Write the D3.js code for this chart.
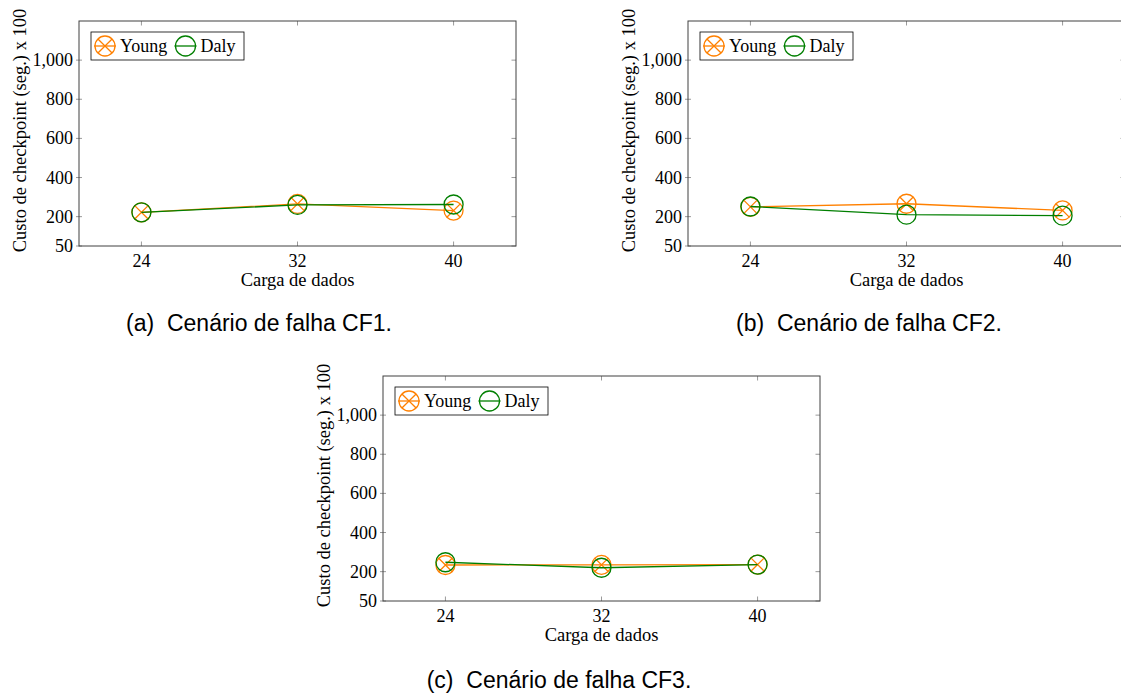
<!DOCTYPE html>
<html>
<head>
<meta charset="utf-8">
<script src="https://cdn.jsdelivr.net/npm/d3@7"></script>
<style>
  body { margin: 0; background: #fff; }
  svg { display: block; font-family: "Liberation Serif", "DejaVu Serif", serif; }
</style>
</head>
<body>
<div id="chart"></div>
<script>
const W = 1121, H = 697;

// data
const loads = [24, 32, 40];
const yTicks = [50, 200, 400, 600, 800, 1000];
const seriesNames = ['Young', 'Daly'];
const youngCF1 = [222, 265, 231];
const dalyCF1 = [222, 260, 262];
const youngCF2 = [250, 266, 232];
const dalyCF2 = [252, 210, 205];
const youngCF3 = [234, 235, 236];
const dalyCF3 = [248, 220, 236];
const captions = ['(a)  Cenário de falha CF1.', '(b)  Cenário de falha CF2.', '(c)  Cenário de falha CF3.'];

const panels = [
  {left: 79, top: 21, capX: 259, capY: 331, young: youngCF1, daly: dalyCF1, caption: captions[0]},
  {left: 688, top: 21, capX: 869, capY: 331, young: youngCF2, daly: dalyCF2, caption: captions[1]},
  {left: 383, top: 376, capX: 559, capY: 688, young: youngCF3, daly: dalyCF3, caption: captions[2]}
];

const pw = 437, ph = 225;
const orange = '#ff8000', green = '#007f00';
const colors = {Young: orange, Daly: green};
const r = 9.5;

const svg = d3.select('#chart').append('svg')
  .attr('width', W)
  .attr('height', H);

function marker(g, name, x, y, rad) {
  g.append('circle')
    .attr('cx', x).attr('cy', y).attr('r', rad)
    .attr('fill', 'none')
    .attr('stroke', colors[name])
    .attr('stroke-width', 1.3);
  if (name === 'Young') {
    const d = rad * 0.707;
    g.append('path')
      .attr('d', `M${x - d},${y - d}L${x + d},${y + d}M${x - d},${y + d}L${x + d},${y - d}`)
      .attr('stroke', colors[name])
      .attr('stroke-width', 1.3);
  }
}

panels.forEach(p => {
  const x = d3.scaleLinear().domain([20.8, 43.2]).range([0, pw]);
  const y = d3.scaleLinear().domain([50, 1200]).range([ph, 0]);

  const g = svg.append('g').attr('transform', `translate(${p.left},${p.top})`);

  // ticks (inside, mirrored)
  g.selectAll('.xt').data(loads).enter().append('path')
    .attr('d', d => `M${x(d)},${ph}v-4.5M${x(d)},0v4.5`)
    .attr('stroke', '#808080').attr('stroke-width', 0.8);
  g.selectAll('.yt').data(yTicks).enter().append('path')
    .attr('d', d => `M-3,${y(d)}h6M${pw},${y(d)}h-4.5`)
    .attr('stroke', '#808080').attr('stroke-width', 0.8);

  // box
  g.append('rect')
    .attr('width', pw).attr('height', ph)
    .attr('fill', 'none')
    .attr('stroke', '#404040')
    .attr('stroke-width', 1);

  // tick labels
  g.selectAll('.xl').data(loads).enter().append('text')
    .attr('x', d => x(d)).attr('y', ph + 21)
    .attr('text-anchor', 'middle')
    .style('font-size', '18px')
    .text(d => d);
  g.selectAll('.yl').data(yTicks).enter().append('text')
    .attr('x', -6).attr('y', d => y(d) + 6)
    .attr('text-anchor', 'end')
    .style('font-size', '18px')
    .text(d => d3.format(',')(d));

  g.append('text')
    .attr('x', pw / 2).attr('y', ph + 40)
    .attr('text-anchor', 'middle')
    .style('font-size', '18.5px')
    .text('Carga de dados');

  g.append('text')
    .attr('transform', `translate(-53,${ph / 2 - 3}) rotate(-90)`)
    .attr('text-anchor', 'middle')
    .style('font-size', '18.5px')
    .text('Custo de checkpoint (seg.) x 100');

  // series: Young then Daly
  const line = d3.line().x((d, i) => x(loads[i])).y(d => y(d));
  [['Young', p.young], ['Daly', p.daly]].forEach(([name, vals]) => {
    g.append('path')
      .attr('d', line(vals))
      .attr('fill', 'none')
      .attr('stroke', colors[name])
      .attr('stroke-width', 1.3);
    vals.forEach((v, i) => marker(g, name, x(loads[i]), y(v), r));
  });

  // legend
  const lg = g.append('g').attr('transform', 'translate(12,11)');
  lg.append('rect')
    .attr('width', 153).attr('height', 28)
    .attr('fill', '#fff')
    .attr('stroke', '#000')
    .attr('stroke-width', 0.8);
  const entryX = [14, 94.5];
  seriesNames.forEach((name, i) => {
    const cx = entryX[i];
    lg.append('path')
      .attr('d', `M${cx - 11},14h22`)
      .attr('stroke', colors[name]).attr('stroke-width', 1.3);
    marker(lg, name, cx, 14, 10);
    lg.append('text')
      .attr('x', cx + 15).attr('y', 20)
      .style('font-size', '18px')
      .text(name);
  });

  svg.append('text')
    .attr('x', p.capX).attr('y', p.capY)
    .attr('text-anchor', 'middle')
    .style('font-family', '"Liberation Sans", Arial, sans-serif')
    .style('font-size', '23px')
    .style('white-space', 'pre')
    .text(p.caption);
});
</script>
</body>
</html>
